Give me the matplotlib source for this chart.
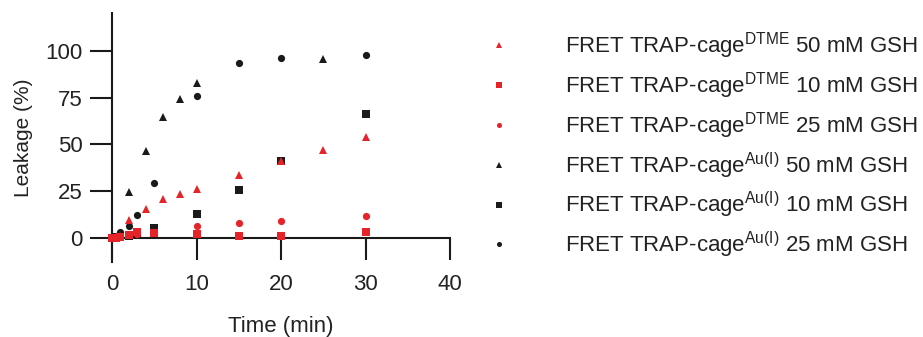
import numpy as np
import matplotlib
matplotlib.use("Agg")
import matplotlib.pyplot as plt

# Leakage (%) vs time (min) for each cage / GSH concentration
t_dtme_50 = [0, 0.5, 1, 2, 4, 6, 8, 10, 15, 20, 25, 30]
y_dtme_50 = [0, 0.3, 1, 9.5, 15.6, 20.9, 23.6, 26.1, 33.8, 41.3, 47, 53.8]
t_dtme_10 = [0, 0.5, 1, 2, 3, 5, 10, 15, 20, 30]
y_dtme_10 = [0, 0, 0.5, 1.4, 2.9, 2.3, 1.8, 1, 1, 3.2]
t_dtme_25 = [0, 0.5, 1, 2, 3, 5, 10, 15, 20, 30]
y_dtme_25 = [0, 0.3, 0.8, 1.5, 2, 3, 6.3, 8, 8.8, 11.8]
t_au_50 = [0, 0.5, 1, 2, 4, 6, 8, 10, 25]
y_au_50 = [0, 0.5, 1.5, 24.7, 46.7, 65, 74.4, 83.2, 95.9]
t_au_10 = [0, 0.5, 1, 2, 3, 5, 10, 15, 20, 30]
y_au_10 = [0, 0.3, 0.5, 1, 2, 5, 12.5, 25.4, 41.3, 66.2]
t_au_25 = [0, 0.5, 1, 2, 3, 5, 10, 15, 20, 30]
y_au_25 = [0, 1, 3, 6.4, 12.3, 29.5, 75.8, 93.6, 96.2, 98.2]

x_ticks = [0, 10, 20, 30, 40]
y_ticks = [0, 25, 50, 75, 100]

RED = "#e5242a"
BLACK = "#1a1a1a"

plt.rcParams["font.family"] = ["Liberation Sans", "DejaVu Sans"]
plt.rcParams["mathtext.fontset"] = "custom"
plt.rcParams["mathtext.rm"] = "Liberation Sans"

fig = plt.figure(figsize=(9.23, 3.37), dpi=100)
ax = fig.add_axes([112 / 923, 75 / 337, 338 / 923, 249 / 337])

series = [
    # black drawn first so red sits on top
    (t_au_50, y_au_50, "^", BLACK, r"FRET TRAP-cage$^{\mathrm{Au(I)}}$ 50 mM GSH"),
    (t_au_10, y_au_10, "s", BLACK, r"FRET TRAP-cage$^{\mathrm{Au(I)}}$ 10 mM GSH"),
    (t_au_25, y_au_25, "o", BLACK, r"FRET TRAP-cage$^{\mathrm{Au(I)}}$ 25 mM GSH"),
    (t_dtme_50, y_dtme_50, "^", RED, r"FRET TRAP-cage$^{\mathrm{DTME}}$ 50 mM GSH"),
    (t_dtme_10, y_dtme_10, "s", RED, r"FRET TRAP-cage$^{\mathrm{DTME}}$ 10 mM GSH"),
    (t_dtme_25, y_dtme_25, "o", RED, r"FRET TRAP-cage$^{\mathrm{DTME}}$ 25 mM GSH"),
]
handles = []
for t, y, m, c, lab in series:
    h, = ax.plot(t, y, linestyle="none", marker=m, color=c, markersize=5.2,
                 markeredgewidth=0, label=lab, clip_on=False, zorder=3)
    handles.append(h)

ax.set_xlim(0, 40)
ax.set_ylim(-13, 120.5)
ax.set_xticks(x_ticks)
ax.set_yticks(y_ticks)
ax.spines["top"].set_visible(False)
ax.spines["right"].set_visible(False)
ax.spines["bottom"].set_position(("data", 0))
for s in ("left", "bottom"):
    ax.spines[s].set_linewidth(1.5)
    ax.spines[s].set_color(BLACK)
ax.tick_params(axis="both", length=16, width=1.5, color=BLACK,
               labelsize=16, labelcolor="#222222")
ax.tick_params(axis="x", pad=10)
ax.tick_params(axis="y", pad=5)
ax.set_xlabel("Time (min)", fontsize=16, color="#222222", labelpad=15)
ax.set_ylabel("Leakage (%)", fontsize=15, color="#222222", labelpad=9)

order = [3, 4, 5, 0, 1, 2]
leg = fig.legend([handles[i] for i in order], [series[i][4] for i in order],
                 loc="upper left", bbox_to_anchor=(478 / 923, 1 - 30 / 337),
                 frameon=False, fontsize=16, handlelength=1.9,
                 handletextpad=2.0, borderpad=0, borderaxespad=0,
                 labelspacing=0.42, markerscale=0.7)
for txt in leg.get_texts():
    txt.set_color("#222222")

fig.savefig("out.png", dpi=100)
